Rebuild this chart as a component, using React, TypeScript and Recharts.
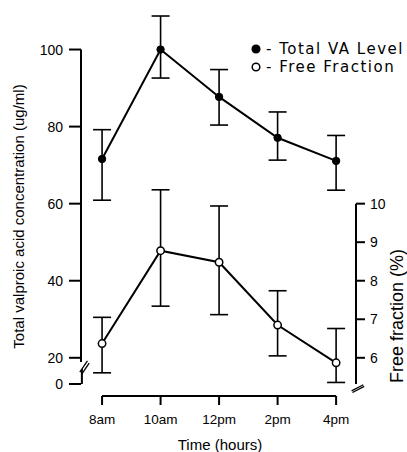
import React from 'react';
import { LineChart, Line, XAxis, YAxis, ErrorBar, ReferenceLine, Legend } from 'recharts';

// ---- data ----
const hours = [8, 10, 12, 14, 16];
const hourLabels = ['8am', '10am', '12pm', '2pm', '4pm'];

const totalVA = [71.6, 100, 87.7, 77.1, 71.1];
const totalVALow = [60.9, 92.6, 80.4, 71.3, 63.5];
const totalVAHigh = [79.2, 108.7, 94.8, 83.8, 77.7];

const freeFraction = [6.37, 8.78, 8.48, 6.85, 5.87];
const freeFractionLow = [5.61, 7.34, 7.12, 6.05, 5.36];
const freeFractionHigh = [7.05, 10.36, 9.94, 7.74, 6.76];

const leftTickValues = [20, 40, 60, 80, 100];
const rightTickValues = [6, 7, 8, 9, 10];

const seriesNames = ['Total VA Level', 'Free Fraction'];
const seriesMarkerFill = ['#000', '#fff'];

// ---- axis layout constants ----
const BREAK_VALUE = 13.2; // where the "0" of the broken left axis sits
const LEFT_MAX = 110;
// right axis aligned so that 6 % <-> 20 ug/ml and 10 % <-> 60 ug/ml
const toRight = (v: number) => 6 + (v - 20) / 10;
const RIGHT_MIN = toRight(BREAK_VALUE);
const RIGHT_MAX = toRight(LEFT_MAX);
const X_MIN = 7.28;
const X_MAX = 16.68;
const X_LINE_LEVEL = 10.1; // left-axis units, x-axis line sits below the plot

const data = hours.map((h, i) => ({
  hour: h,
  va: totalVA[i],
  vaErr: [totalVA[i] - totalVALow[i], totalVAHigh[i] - totalVA[i]],
  ff: freeFraction[i],
  ffErr: [freeFraction[i] - freeFractionLow[i], freeFractionHigh[i] - freeFraction[i]],
}));

const TICK_FONT = "'Liberation Sans', Arial, sans-serif";
const LABEL_FONT = "'Liberation Sans', Arial, sans-serif";

const XTick = (props: any) => {
  const { x, y, payload } = props;
  const idx = hours.indexOf(payload.value);
  return (
    <g>
      <line x1={x} x2={x} y1={y + 12} y2={y + 21} stroke="#000" strokeWidth={2} />
      <text x={x} y={y + 40} textAnchor="middle" fill="#000" fontSize={13.5} fontFamily={TICK_FONT}>
        {hourLabels[idx]}
      </text>
    </g>
  );
};

const LegendContent = (props: any) => {
  const payload = [...(props.payload || [])].sort(
    (a: any, b: any) => seriesNames.indexOf(a.value) - seriesNames.indexOf(b.value)
  );
  return (
    <div style={{ fontFamily: "'DejaVu Sans', sans-serif", fontSize: 15, letterSpacing: 1.5, color: '#000' }}>
      {payload.map((entry: any) => {
        const i = seriesNames.indexOf(entry.value);
        return (
          <div key={entry.value} style={{ display: 'flex', alignItems: 'center', height: 17.4, whiteSpace: 'nowrap' }}>
            <svg width={12} height={12} style={{ display: 'block' }}>
              <circle cx={6} cy={6} r={3.8} fill={seriesMarkerFill[i]} stroke="#000" strokeWidth={1.5} />
            </svg>
            <span style={{ marginLeft: 4 }}>- {entry.value}</span>
          </div>
        );
      })}
    </div>
  );
};

const axisLine = { stroke: '#000', strokeWidth: 2 };

export default function App() {
  return (
    <div style={{ position: 'absolute', left: 0, top: 0, width: 407, height: 452, background: '#fff', overflow: 'hidden' }}>
      <LineChart width={407} height={452} data={data} margin={{ top: 11, right: 0, bottom: 0, left: 0 }}>
        <XAxis
          type="number"
          dataKey="hour"
          domain={[X_MIN, X_MAX]}
          ticks={hours}
          interval={0}
          axisLine={false}
          tickLine={false}
          tickSize={0}
          tickMargin={0}
          height={68}
          tick={<XTick />}
        />
        <YAxis
          yAxisId="left"
          domain={[BREAK_VALUE, LEFT_MAX]}
          ticks={[BREAK_VALUE, ...leftTickValues]}
          interval={0}
          tickFormatter={(v: number) => (v === BREAK_VALUE ? '0' : String(v))}
          axisLine={false}
          tickLine={{ stroke: '#000', strokeWidth: 2 }}
          tickSize={12}
          tickMargin={6}
          width={81}
          tick={{ fill: '#000', fontSize: 14, fontFamily: TICK_FONT }}
        />
        <YAxis
          yAxisId="right"
          orientation="right"
          domain={[RIGHT_MIN, RIGHT_MAX]}
          ticks={rightTickValues}
          interval={0}
          axisLine={false}
          tickLine={{ stroke: '#000', strokeWidth: 2 }}
          tickSize={9}
          tickMargin={5}
          width={51}
          tick={{ fill: '#000', fontSize: 14, fontFamily: TICK_FONT }}
        />

        {/* left axis (broken) */}
        <ReferenceLine yAxisId="left" ifOverflow="visible" segment={[{ x: X_MIN, y: 100 }, { x: X_MIN, y: 18.9 }]} {...axisLine} />
        <ReferenceLine yAxisId="left" ifOverflow="visible" segment={[{ x: X_MIN + 0.03, y: 17.1 }, { x: X_MIN + 0.03, y: BREAK_VALUE }]} {...axisLine} />
        <ReferenceLine yAxisId="left" ifOverflow="visible" segment={[{ x: X_MIN - 0.04, y: 16.3 }, { x: X_MIN + 0.22, y: 19.2 }]} stroke="#000" strokeWidth={1.3} />
        <ReferenceLine yAxisId="left" ifOverflow="visible" segment={[{ x: X_MIN + 0.02, y: 15.7 }, { x: X_MIN + 0.28, y: 18.6 }]} stroke="#000" strokeWidth={1.3} />

        {/* right axis */}
        <ReferenceLine yAxisId="right" ifOverflow="visible" segment={[{ x: X_MAX, y: 10 }, { x: X_MAX, y: RIGHT_MIN }]} {...axisLine} />
        <ReferenceLine yAxisId="right" ifOverflow="visible" segment={[{ x: X_MAX - 0.15, y: 5.14 }, { x: X_MAX + 0.25, y: 5.3 }]} stroke="#000" strokeWidth={1.3} />
        <ReferenceLine yAxisId="right" ifOverflow="visible" segment={[{ x: X_MAX - 0.12, y: 5.1 }, { x: X_MAX + 0.28, y: 5.26 }]} stroke="#000" strokeWidth={1.3} />

        {/* x axis line */}
        <ReferenceLine yAxisId="left" ifOverflow="visible" segment={[{ x: hours[0], y: X_LINE_LEVEL }, { x: hours[hours.length - 1], y: X_LINE_LEVEL }]} {...axisLine} />

        <Line
          yAxisId="left"
          dataKey="va"
          name={seriesNames[0]}
          stroke="#000"
          strokeWidth={2}
          dot={{ r: 3.7, fill: seriesMarkerFill[0], stroke: '#000', strokeWidth: 1 }}
          activeDot={false}
          isAnimationActive={false}
        >
          <ErrorBar dataKey="vaErr" direction="y" width={9} stroke="#000" strokeWidth={1.6} isAnimationActive={false} />
        </Line>
        <Line
          yAxisId="right"
          dataKey="ff"
          name={seriesNames[1]}
          stroke="#000"
          strokeWidth={2}
          dot={{ r: 3.7, fill: seriesMarkerFill[1], stroke: '#000', strokeWidth: 1.5 }}
          activeDot={false}
          isAnimationActive={false}
        >
          <ErrorBar dataKey="ffErr" direction="y" width={9} stroke="#000" strokeWidth={1.6} isAnimationActive={false} />
        </Line>

        <Legend
          layout="vertical"
          align="center"
          verticalAlign="middle"
          wrapperStyle={{ top: 40.5, left: 250, width: 160 }}
          content={<LegendContent />}
        />

        <text x={24} y={216.5} transform="rotate(-90 24 216.5)" textAnchor="middle" fill="#000" fontSize={15} fontFamily={LABEL_FONT}>
          Total valproic acid concentration (ug/ml)
        </text>
        <text x={403} y={383} transform="rotate(-90 403 383)" textAnchor="start" fill="#000" fontSize={18} fontFamily={LABEL_FONT}>
          Free fraction (%)
        </text>
        <text x={220} y={450} textAnchor="middle" fill="#000" fontSize={15} fontFamily={LABEL_FONT}>
          Time (hours)
        </text>
      </LineChart>
    </div>
  );
}
